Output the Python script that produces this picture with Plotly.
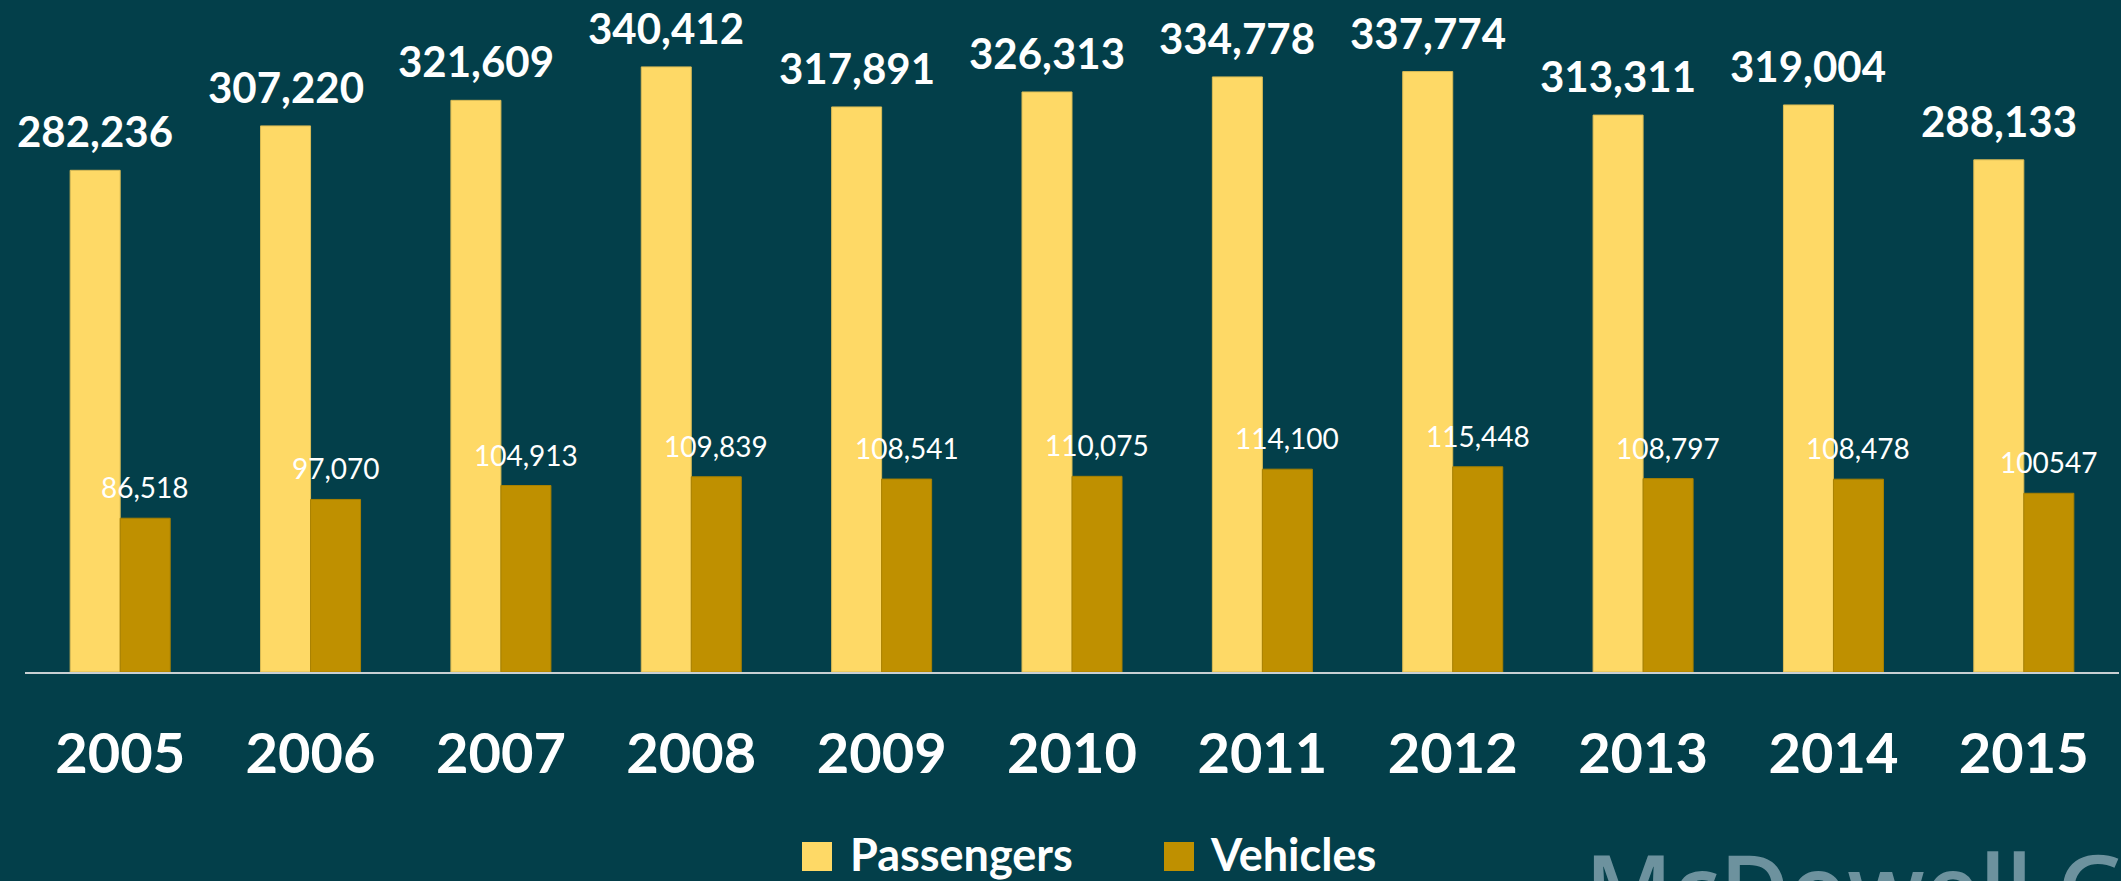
import plotly.graph_objects as go

# ---- data ----
years = ["2005", "2006", "2007", "2008", "2009", "2010", "2011", "2012", "2013", "2014", "2015"]
passengers = [282236, 307220, 321609, 340412, 317891, 326313, 334778, 337774, 313311, 319004, 288133]
vehicles = [86518, 97070, 104913, 109839, 108541, 110075, 114100, 115448, 108797, 108478, 100547]
passenger_labels = ["282,236", "307,220", "321,609", "340,412", "317,891", "326,313",
                    "334,778", "337,774", "313,311", "319,004", "288,133"]
vehicle_labels = ["86,518", "97,070", "104,913", "109,839", "108,541", "110,075",
                  "114,100", "115,448", "108,797", "108,478", "100547"]
series_names = ["Passengers", "Vehicles"]

# ---- style ----
W, H = 2121, 881
ML, MR, MT, MB = 25, 2, 12, 209
BG = "#033f4a"
C_PASS = "#FED966"
C_VEH = "#BF9000"
FONT = "Lato"
BAR_W = 0.2627
YMAX = 371300

xs = list(range(len(years)))

fig = go.Figure()
fig.add_trace(go.Bar(x=xs, y=passengers, name=series_names[0], width=BAR_W, offset=-BAR_W,
                     marker=dict(color=C_PASS, line=dict(color="#d9bb55", width=1)),
                     showlegend=False, hoverinfo="x+y"))
fig.add_trace(go.Bar(x=xs, y=vehicles, name=series_names[1], width=BAR_W, offset=0,
                     marker=dict(color=C_VEH, line=dict(color="#a88000", width=1)),
                     showlegend=False, hoverinfo="x+y"))

annotations = []
for i in xs:
    annotations.append(dict(x=i - BAR_W / 2, y=passengers[i], xref="x", yref="y",
                            text=passenger_labels[i], showarrow=False, yanchor="bottom",
                            yshift=12, font=dict(family=FONT, size=42, color="white", weight="bold")))
    annotations.append(dict(x=i + BAR_W / 2, y=vehicles[i], xref="x", yref="y",
                            text=vehicle_labels[i], showarrow=False, yanchor="bottom",
                            yshift=12, font=dict(family=FONT, size=28, color="white")))

pw = W - ML - MR
ph = H - MT - MB


def px(xp):
    return (xp - ML) / pw


def py(yp):
    return (H - MB - yp) / ph


shapes = []
legend_items = [(802, 848, C_PASS, series_names[0]), (1164, 1208, C_VEH, series_names[1])]
for sx, tx, col, name in legend_items:
    shapes.append(dict(type="rect", xref="paper", yref="paper",
                       x0=px(sx), x1=px(sx + 30), y0=py(871), y1=py(842),
                       fillcolor=col, line=dict(width=0)))
    annotations.append(dict(x=px(tx), y=py(854), xref="paper", yref="paper",
                            text=name, showarrow=False, xanchor="left", yanchor="middle",
                            font=dict(family=FONT, size=45, color="white", weight="bold")))

# watermark (cut off by the bottom edge, as in the original)
annotations.append(dict(x=px(1583), y=py(819), xref="paper", yref="paper",
                        text="McDowell Group", showarrow=False, xanchor="left", yanchor="top",
                        font=dict(family="Open Sans", size=95, color="#6d929e", weight=600)))

fig.update_layout(
    width=W, height=H,
    margin=dict(l=ML, r=MR, t=MT, b=MB, pad=0),
    paper_bgcolor=BG, plot_bgcolor=BG,
    barmode="overlay",
    showlegend=False,
    annotations=annotations,
    shapes=shapes,
    xaxis=dict(range=[-0.5, len(years) - 0.5], tickvals=xs, ticktext=years,
               showgrid=False, zeroline=False, showline=True, linecolor="#c9d0d3", linewidth=2,
               ticks="", ticklabelstandoff=32,
               tickfont=dict(family=FONT, size=56, color="white", weight="bold")),
    yaxis=dict(range=[0, YMAX], visible=False, showgrid=False, zeroline=False),
)

fig.write_html("out.html", config={"displayModeBar": False},
               post_script="document.body.style.margin='0';document.body.style.overflow='hidden';")
